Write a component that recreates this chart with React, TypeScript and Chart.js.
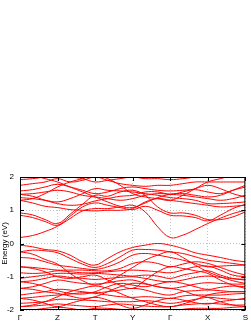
import React, { useEffect, useRef } from 'react';
import { Chart, registerables } from 'chart.js';
Chart.register(...registerables);

// High-symmetry path: 3 samples per segment, 19 k-points
const kLabels = ['Γ', 'Z', 'T', 'Y', 'Γ', 'X', 'S'];
const kTickPos = [0, 3, 6, 9, 12, 15, 18];
const kPath = [0, 1, 2, 3, 4, 5, 6, 7, 8, 9, 10, 11, 12, 13, 14, 15, 16, 17, 18];
const yTicks = [-2, -1, 0, 1, 2];

// Conduction bands (eV)
const c01 = [0.18, 0.24, 0.36, 0.52, 0.75, 0.98, 1.05, 1.05, 1.1, 1.15, 0.95, 0.5, 0.18, 0.25, 0.42, 0.6, 0.76, 0.9, 1.0];
const c02 = [0.85, 0.78, 0.66, 0.55, 0.82, 1.1, 1.22, 1.15, 1.08, 1.02, 1.12, 1.0, 0.85, 0.83, 0.78, 0.68, 0.85, 1.05, 1.18];
const c03 = [0.92, 0.86, 0.72, 0.6, 0.88, 1.18, 1.45, 1.42, 1.55, 1.6, 1.45, 1.1, 0.92, 0.92, 0.85, 0.72, 0.72, 0.8, 0.95];
const c04 = [1.3, 1.22, 1.12, 1.08, 1.02, 1.0, 0.98, 1.0, 1.0, 1.05, 1.25, 1.35, 1.3, 1.25, 1.2, 1.15, 1.1, 1.12, 1.15];
const c05 = [1.38, 1.35, 1.3, 1.25, 1.35, 1.5, 1.65, 1.6, 1.58, 1.55, 1.5, 1.45, 1.38, 1.35, 1.3, 1.2, 1.2, 1.22, 1.25];
const c06 = [1.48, 1.5, 1.55, 1.6, 1.55, 1.45, 1.4, 1.35, 1.3, 1.35, 1.45, 1.5, 1.48, 1.45, 1.4, 1.35, 1.3, 1.35, 1.45];
const c07 = [1.58, 1.62, 1.7, 1.78, 1.7, 1.6, 1.5, 1.55, 1.65, 1.7, 1.65, 1.6, 1.58, 1.6, 1.62, 1.55, 1.5, 1.6, 1.7];
const c08 = [1.75, 1.8, 1.85, 1.95, 1.85, 1.9, 2.0, 1.9, 1.8, 1.75, 1.72, 1.75, 1.75, 1.8, 1.85, 1.85, 1.85, 1.85, 1.85];
const c09 = [1.92, 1.95, 2.0, 2.05, 2.0, 1.95, 1.85, 1.9, 1.95, 2.0, 1.95, 1.95, 1.92, 1.95, 2.0, 2.05, 2.05, 2.0, 2.0];
const c10 = [1.3, 1.35, 1.5, 1.7, 1.85, 1.95, 2.05, 1.95, 1.75, 1.5, 1.4, 1.35, 1.3, 1.45, 1.65, 1.85, 1.95, 2.05, 2.1];
const c11 = [2.1, 2.05, 1.95, 1.85, 1.7, 1.55, 1.4, 1.25, 1.12, 1.08, 1.22, 1.38, 1.48, 1.5, 1.45, 1.4, 1.45, 1.6, 1.75];
const c12 = [1.48, 1.42, 1.3, 1.2, 1.15, 1.18, 1.28, 1.35, 1.42, 1.45, 1.55, 1.55, 1.48, 1.55, 1.65, 1.75, 1.65, 1.5, 1.4];

// Valence bands (eV)
const v01 = [-0.05, -0.1, -0.18, -0.22, -0.35, -0.55, -0.65, -0.45, -0.25, -0.12, -0.05, 0.0, -0.05, -0.15, -0.28, -0.35, -0.42, -0.5, -0.55];
const v02 = [-0.25, -0.2, -0.22, -0.28, -0.45, -0.62, -0.72, -0.6, -0.4, -0.2, -0.18, -0.2, -0.25, -0.3, -0.4, -0.5, -0.55, -0.6, -0.65];
const v03 = [-0.42, -0.45, -0.55, -0.65, -0.7, -0.75, -0.78, -0.7, -0.55, -0.35, -0.3, -0.35, -0.42, -0.5, -0.6, -0.7, -0.68, -0.66, -0.65];
const v04 = [-0.7, -0.72, -0.76, -0.8, -0.8, -0.8, -0.82, -0.82, -0.75, -0.6, -0.55, -0.6, -0.7, -0.62, -0.55, -0.6, -0.72, -0.85, -0.95];
const v05 = [-0.88, -0.9, -0.88, -0.82, -0.85, -0.88, -0.88, -0.85, -0.82, -0.8, -0.82, -0.85, -0.88, -0.8, -0.7, -0.68, -0.8, -0.95, -1.0];
const v06 = [-1.05, -1.0, -0.95, -0.9, -0.9, -0.92, -0.9, -0.92, -0.95, -0.98, -0.95, -0.98, -1.05, -0.95, -0.88, -0.82, -0.95, -1.05, -1.08];
const v07 = [-1.15, -1.12, -1.05, -0.98, -1.02, -1.05, -1.08, -1.05, -1.02, -1.0, -1.05, -1.12, -1.15, -1.1, -1.02, -0.98, -1.02, -1.06, -1.1];
const v08 = [-1.35, -1.3, -1.2, -1.1, -1.15, -1.2, -1.22, -1.18, -1.12, -1.1, -1.2, -1.3, -1.35, -1.3, -1.22, -1.18, -1.2, -1.22, -1.22];
const v09 = [-1.55, -1.5, -1.45, -1.38, -1.4, -1.45, -1.48, -1.45, -1.4, -1.35, -1.4, -1.5, -1.55, -1.45, -1.42, -1.4, -1.42, -1.45, -1.45];
const v10 = [-1.65, -1.62, -1.58, -1.55, -1.52, -1.48, -1.5, -1.55, -1.6, -1.62, -1.6, -1.62, -1.65, -1.58, -1.55, -1.55, -1.55, -1.52, -1.5];
const v11 = [-1.8, -1.78, -1.75, -1.68, -1.68, -1.7, -1.72, -1.75, -1.75, -1.75, -1.72, -1.75, -1.8, -1.75, -1.68, -1.62, -1.65, -1.68, -1.68];
const v12 = [-1.9, -1.88, -1.85, -1.82, -1.85, -1.88, -1.9, -1.85, -1.82, -1.85, -1.88, -1.9, -1.9, -1.85, -1.82, -1.8, -1.82, -1.85, -1.85];
const v13 = [-2.05, -2.0, -1.95, -1.92, -1.95, -2.0, -1.95, -1.95, -1.98, -2.0, -1.98, -2.02, -2.05, -1.98, -1.95, -1.95, -1.95, -1.92, -1.9];
const v14 = [-0.25, -0.32, -0.48, -0.62, -0.9, -1.12, -1.25, -1.15, -0.95, -0.72, -0.5, -0.35, -0.25, -0.42, -0.65, -0.85, -1.0, -1.12, -1.2];
const v15 = [-1.35, -1.38, -1.45, -1.5, -1.58, -1.65, -1.6, -1.45, -1.3, -1.2, -1.22, -1.3, -1.35, -1.42, -1.55, -1.62, -1.75, -1.85, -1.9];
const v16 = [-1.9, -1.85, -1.75, -1.6, -1.45, -1.35, -1.28, -1.35, -1.5, -1.65, -1.75, -1.85, -1.9, -1.82, -1.7, -1.55, -1.48, -1.45, -1.45];
const v17 = [-1.15, -1.2, -1.3, -1.42, -1.5, -1.52, -1.45, -1.3, -1.2, -1.25, -1.3, -1.22, -1.15, -1.2, -1.3, -1.38, -1.32, -1.28, -1.3];
const v18 = [-1.65, -1.7, -1.8, -1.9, -1.8, -1.7, -1.62, -1.7, -1.85, -1.95, -1.85, -1.72, -1.65, -1.7, -1.78, -1.82, -1.75, -1.7, -1.65];
const v19 = [-0.7, -0.75, -0.85, -1.0, -1.05, -1.0, -0.95, -1.1, -1.25, -1.35, -1.1, -0.85, -0.7, -0.75, -0.82, -0.9, -1.1, -1.25, -1.35];

const bands = [c01, c02, c03, c04, c05, c06, c07, c08, c09, c10, c11, c12,
  v01, v02, v03, v04, v05, v06, v07, v08, v09, v10, v11, v12, v13, v14, v15, v16, v17, v18, v19];

const FONT = "'Liberation Sans', Arial, sans-serif";

const framePlugin = {
  id: 'frame',
  afterDatasetsDraw(chart: any) {
    const { ctx, chartArea: a, scales } = chart;
    ctx.save();
    ctx.strokeStyle = '#000';
    ctx.lineWidth = 1;
    ctx.strokeRect(a.left + 0.5, a.top + 0.5, a.right - a.left - 1, a.bottom - a.top - 1);
    ctx.beginPath();
    for (const v of yTicks) {
      const y = Math.round(scales.y.getPixelForValue(v)) + 0.5;
      ctx.moveTo(a.left, y); ctx.lineTo(a.left + 4, y);
      ctx.moveTo(a.right, y); ctx.lineTo(a.right - 4, y);
    }
    for (const v of kTickPos) {
      const x = Math.round(scales.x.getPixelForValue(v)) + 0.5;
      ctx.moveTo(x, a.bottom); ctx.lineTo(x, a.bottom - 4);
      ctx.moveTo(x, a.top); ctx.lineTo(x, a.top + 4);
    }
    ctx.stroke();
    ctx.restore();
  },
};

export default function App() {
  const ref = useRef<HTMLCanvasElement>(null);
  useEffect(() => {
    document.body.style.margin = '0';
    const chart = new Chart(ref.current!, {
      type: 'line',
      data: {
        datasets: bands.map((b) => ({
          data: b.map((v, i) => ({ x: kPath[i], y: v })),
          borderColor: 'rgb(255,0,0)',
          borderWidth: 1,
          pointRadius: 0,
          tension: 0.4,
          fill: false,
        })),
      },
      options: {
        responsive: false,
        animation: false,
        events: [],
        layout: { padding: { top: 177, right: 3, left: 0, bottom: 0 } },
        plugins: { legend: { display: false }, tooltip: { enabled: false } },
        scales: {
          x: {
            type: 'linear',
            min: 0,
            max: 18,
            afterBuildTicks: (s: any) => { s.ticks = kTickPos.map((v) => ({ value: v })); },
            afterFit: (s: any) => { s.height = 14; },
            ticks: {
              autoSkip: false,
              maxRotation: 0,
              padding: 3,
              color: '#000',
              font: { family: FONT, size: 8 },
              callback: (v: any) => kLabels[kTickPos.indexOf(Number(v))] ?? '',
            },
            grid: { color: 'rgba(170,170,170,0.7)', drawTicks: false, lineWidth: 1 },
            border: { display: false, dash: [1, 2] },
          },
          y: {
            type: 'linear',
            min: -2,
            max: 2,
            afterBuildTicks: (s: any) => { s.ticks = yTicks.map((v) => ({ value: v })); },
            afterFit: (s: any) => { s.width = 20; },
            ticks: {
              padding: 6,
              color: '#000',
              font: { family: FONT, size: 8 },
              callback: (v: any) => String(v),
            },
            grid: { color: 'rgba(170,170,170,0.7)', drawTicks: false, lineWidth: 1 },
            border: { display: false, dash: [1, 2] },
            title: {
              display: true,
              text: 'Energy (eV)',
              color: '#000',
              font: { family: FONT, size: 8 },
              padding: 0,
            },
          },
        },
      },
      plugins: [framePlugin],
    });
    return () => chart.destroy();
  }, []);
  return (
    <div style={{ width: 251, height: 324 }}>
      <canvas ref={ref} width={251} height={324} />
    </div>
  );
}
